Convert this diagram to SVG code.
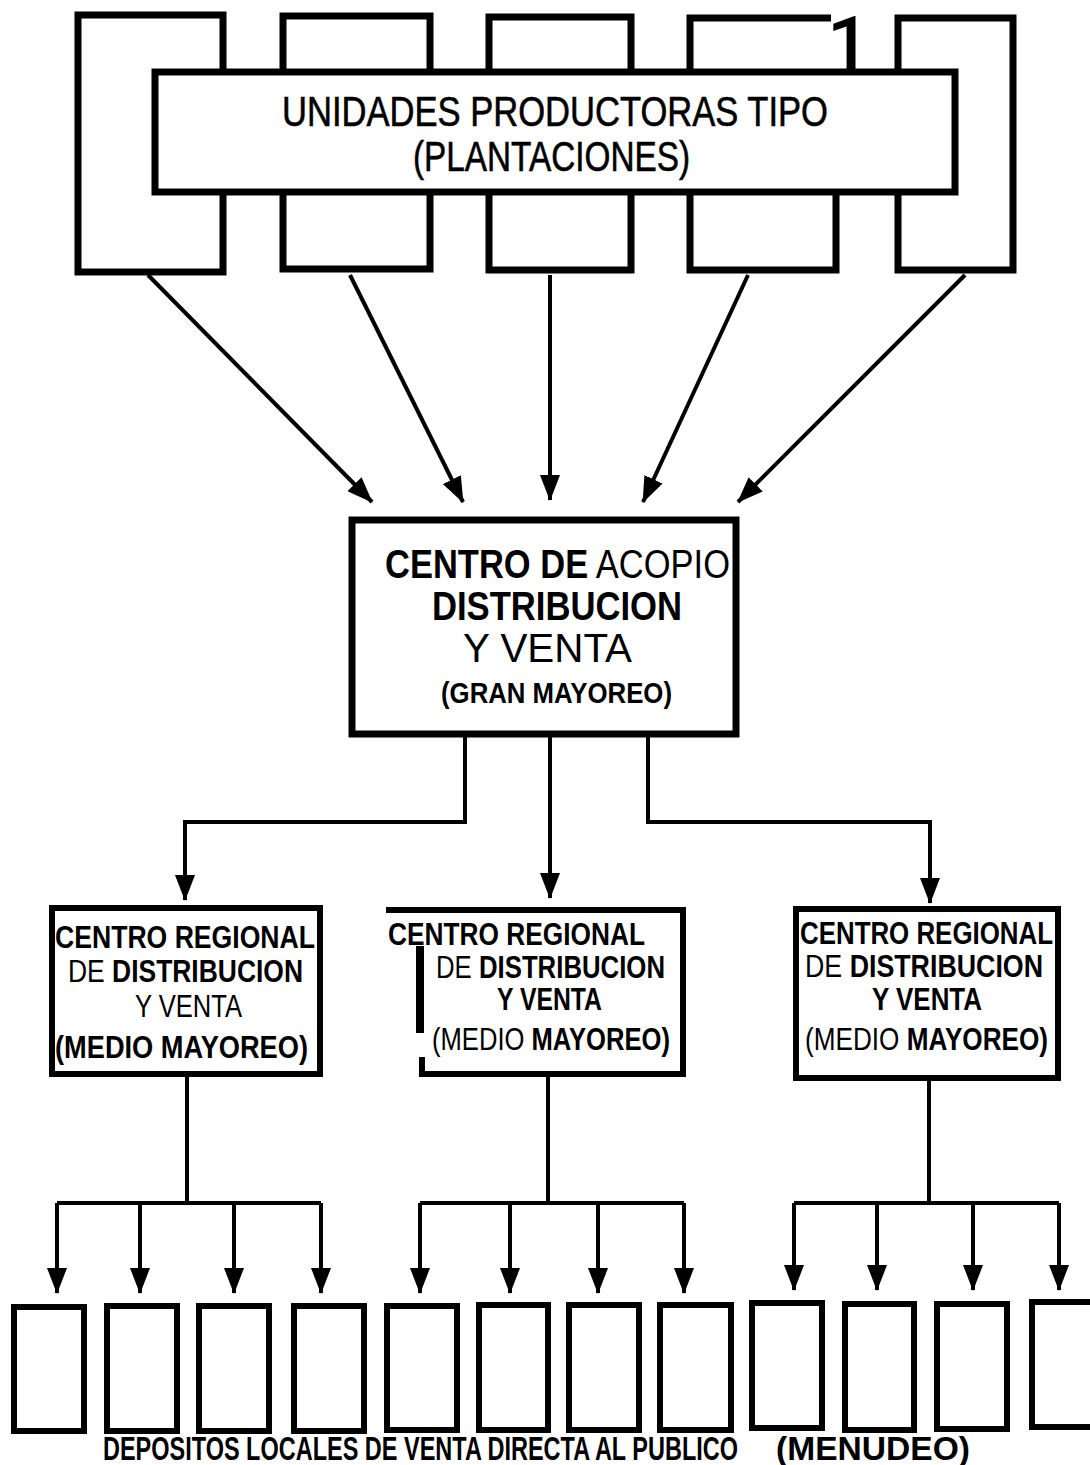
<svg xmlns="http://www.w3.org/2000/svg" width="1090" height="1465" viewBox="0 0 1090 1465">
<defs>
<marker id="ah" markerUnits="userSpaceOnUse" markerWidth="26" markerHeight="20" refX="25" refY="10" orient="auto">
<path d="M0,0 L26,10 L0,20 z" fill="#000"/>
</marker>
<style>
.box{fill:#fff;stroke:#000;stroke-width:7}
.sbox{fill:#fff;stroke:#000;stroke-width:6}
.con{fill:none;stroke:#000;stroke-width:4}
.arr{fill:none;stroke:#000;stroke-width:4;marker-end:url(#ah)}
text{font-family:"Liberation Sans Narrow","Liberation Sans",Arial,sans-serif;fill:#000}
text.num{font-family:Roboto,"Liberation Sans",Arial,sans-serif;font-weight:500}
.b{font-weight:bold}
.t{stroke:#000;stroke-width:0.6}
</style>
</defs>
<rect width="1090" height="1465" fill="#fff"/>

<g id="productores">
<rect class="box" x="78" y="15" width="145" height="257"/>
<rect class="box" x="283" y="16" width="147" height="253"/>
<rect class="box" x="489" y="17" width="142" height="253"/>
<path class="box" d="M831,18 H690 V270 H836 V180"/>
<rect class="box" x="898" y="18" width="115" height="252"/>
<text class="num" x="827" y="70" font-size="76">1</text>
</g>

<g id="unidades">
<rect class="box" x="155" y="72" width="800" height="120"/>
<text class="t" x="282" y="126" font-size="42" textLength="546" lengthAdjust="spacingAndGlyphs">UNIDADES PRODUCTORAS TIPO</text>
<text class="t" x="413" y="171" font-size="42" textLength="277" lengthAdjust="spacingAndGlyphs">(PLANTACIONES)</text>
</g>

<g id="centro-acopio">
<rect class="box" x="352" y="520" width="384" height="214"/>
<text x="385" y="578" font-size="41" textLength="345" lengthAdjust="spacingAndGlyphs"><tspan class="b">CENTRO DE</tspan> ACOPIO</text>
<text x="432" y="620" font-size="41" class="b" textLength="250" lengthAdjust="spacingAndGlyphs">DISTRIBUCION</text>
<text x="463" y="662" font-size="41" textLength="169" lengthAdjust="spacingAndGlyphs">Y VENTA</text>
<text x="441" y="703" font-size="29" class="b" textLength="231" lengthAdjust="spacingAndGlyphs">(GRAN MAYOREO)</text>
</g>

<g id="regional-1">
<rect class="sbox" x="52" y="908" width="268" height="166"/>
<text x="55" y="948" font-size="32" class="b" textLength="260" lengthAdjust="spacingAndGlyphs">CENTRO REGIONAL</text>
<text x="68" y="982" font-size="32" textLength="235" lengthAdjust="spacingAndGlyphs">DE <tspan class="b">DISTRIBUCION</tspan></text>
<text x="135" y="1017" font-size="32" textLength="107" lengthAdjust="spacingAndGlyphs">Y VENTA</text>
<text x="55" y="1058" font-size="32" class="b" textLength="253" lengthAdjust="spacingAndGlyphs">(MEDIO MAYOREO)</text>
</g>

<g id="regional-2">
<path class="sbox" d="M386,910 H683 V1074 H422 V1057"/>
<path d="M420,946 V1033" stroke="#000" stroke-width="8" fill="none"/>
<text x="388" y="945" font-size="32" class="b" textLength="257" lengthAdjust="spacingAndGlyphs">CENTRO REGIONAL</text>
<text x="436" y="978" font-size="32" textLength="229" lengthAdjust="spacingAndGlyphs">DE <tspan class="b">DISTRIBUCION</tspan></text>
<text x="497" y="1010" font-size="32" class="b" textLength="105" lengthAdjust="spacingAndGlyphs">Y VENTA</text>
<text x="432" y="1050" font-size="32" textLength="238" lengthAdjust="spacingAndGlyphs">(MEDIO <tspan class="b">MAYOREO)</tspan></text>
</g>

<g id="regional-3">
<rect class="sbox" x="796" y="909" width="262" height="169"/>
<text x="800" y="944" font-size="32" class="b" textLength="253" lengthAdjust="spacingAndGlyphs">CENTRO REGIONAL</text>
<text x="805" y="977" font-size="32" textLength="238" lengthAdjust="spacingAndGlyphs">DE <tspan class="b">DISTRIBUCION</tspan></text>
<text x="872" y="1010" font-size="32" class="b" textLength="110" lengthAdjust="spacingAndGlyphs">Y VENTA</text>
<text x="805" y="1050" font-size="32" textLength="243" lengthAdjust="spacingAndGlyphs">(MEDIO <tspan class="b">MAYOREO)</tspan></text>
</g>

<g id="depositos">
<rect class="sbox" x="14" y="1307" width="70" height="124"/>
<rect class="sbox" x="107" y="1306" width="70" height="125"/>
<rect class="sbox" x="199" y="1306" width="70" height="125"/>
<rect class="sbox" x="294" y="1306" width="70" height="125"/>
<rect class="sbox" x="387" y="1306" width="70" height="124"/>
<rect class="sbox" x="479" y="1305" width="69" height="125"/>
<rect class="sbox" x="569" y="1305" width="70" height="125"/>
<rect class="sbox" x="660" y="1305" width="71" height="125"/>
<rect class="sbox" x="752" y="1303" width="70" height="125"/>
<rect class="sbox" x="845" y="1304" width="69" height="126"/>
<rect class="sbox" x="937" y="1304" width="70" height="125"/>
<rect class="sbox" x="1032" y="1302" width="70" height="125"/>
<text x="103" y="1460" font-size="34" class="b" textLength="635" lengthAdjust="spacingAndGlyphs">DEPOSITOS LOCALES DE VENTA DIRECTA AL PUBLICO</text>
<text x="776" y="1460" font-size="34" class="b" textLength="194" lengthAdjust="spacingAndGlyphs">(MENUDEO)</text>
</g>

<g id="conectores">
<line class="arr" x1="148" y1="275" x2="372" y2="502"/>
<line class="arr" x1="350" y1="275" x2="463" y2="502"/>
<line class="arr" x1="550" y1="275" x2="550" y2="500"/>
<line class="arr" x1="748" y1="275" x2="643" y2="502"/>
<line class="arr" x1="965" y1="275" x2="738" y2="502"/>

<path class="arr" d="M465,736 V822 H185 V900"/>
<path class="arr" d="M550,736 V898"/>
<path class="arr" d="M648,736 V822 H930 V903"/>

<path class="con" d="M187,1077 V1203"/>
<path class="arr" d="M57,1203 V1293"/>
<path class="con" d="M57,1203 H321"/>
<path class="arr" d="M140,1203 V1293"/>
<path class="arr" d="M234,1203 V1293"/>
<path class="arr" d="M321,1203 V1293"/>

<path class="con" d="M548,1077 V1203"/>
<path class="con" d="M420,1203 H684"/>
<path class="arr" d="M420,1203 V1293"/>
<path class="arr" d="M510,1203 V1293"/>
<path class="arr" d="M598,1203 V1293"/>
<path class="arr" d="M684,1203 V1293"/>

<path class="con" d="M929,1081 V1203"/>
<path class="con" d="M794,1203 H1059"/>
<path class="arr" d="M794,1203 V1290"/>
<path class="arr" d="M877,1203 V1290"/>
<path class="arr" d="M973,1203 V1290"/>
<path class="arr" d="M1059,1203 V1290"/>
</g>
</svg>
